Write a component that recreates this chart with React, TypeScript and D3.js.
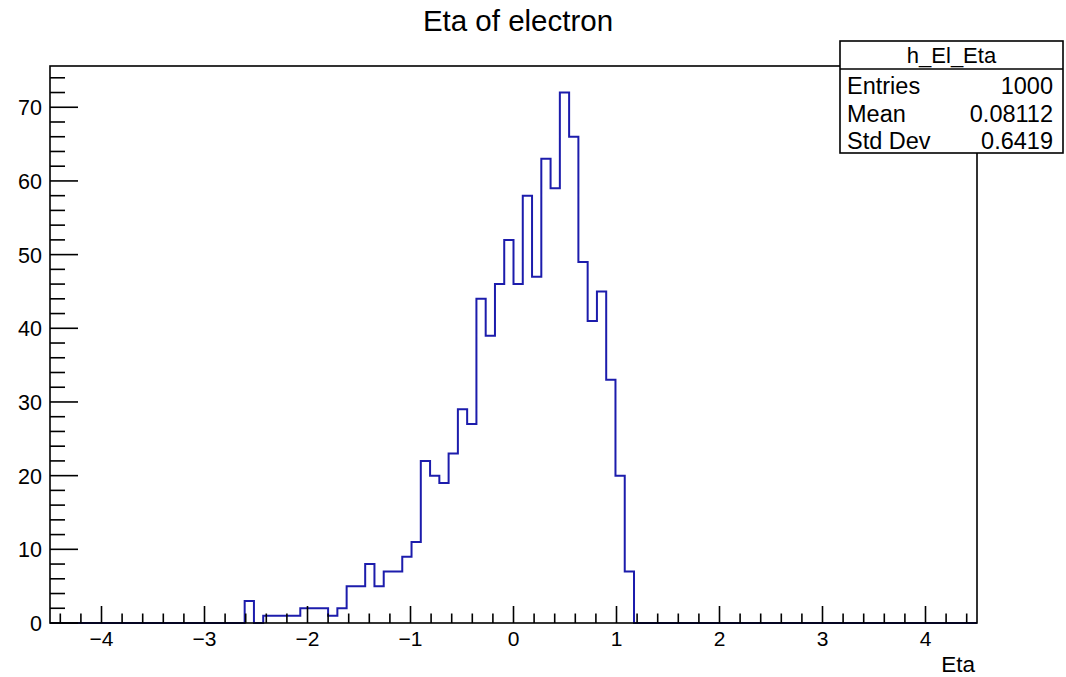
import React from "react";
import * as d3 from "d3";

// Histogram definition: 100 equal bins over [-4.5, 4.5]
const X_MIN = -4.5;
const X_MAX = 4.5;
const N_BINS = 100;

// Counts for the bins from FIRST_FILLED_BIN onward (all others are empty)
const FIRST_FILLED_BIN = 21;
const filledCounts = [
  3, 0, 1, 1, 1, 1, 2, 2, 2, 1, 2, 5, 5, 8, 5, 7, 7, 9, 11, 22, 20, 19, 23,
  29, 27, 44, 39, 46, 52, 46, 58, 47, 63, 59, 72, 66, 49, 41, 45, 33, 20, 7,
];

// Axis ticks
const xMajorTicks = [-4, -3, -2, -1, 0, 1, 2, 3, 4];
const yMajorTicks = [0, 10, 20, 30, 40, 50, 60, 70];

// Statistics box entries
const statsTitle = "h_El_Eta";
const statsLabels = ["Entries", "Mean", "Std Dev"];
const statsValues = ["1000", "0.08112", "0.6419"];

const chartTitle = "Eta of electron";
const xAxisTitle = "Eta";

const W = 1066;
const H = 677;
const FRAME = { left: 50, right: 977, top: 66, bottom: 623 };
const FONT = "'Liberation Sans', Arial, Helvetica, sans-serif";
const LINE_COLOR = "#1c1cac";

export default function App() {
  const counts: number[] = Array.from({ length: N_BINS }, (_, i) => {
    const k = i - FIRST_FILLED_BIN;
    return k >= 0 && k < filledCounts.length ? filledCounts[k] : 0;
  });
  const binWidth = (X_MAX - X_MIN) / N_BINS;
  const yMax = (d3.max(counts) ?? 1) * 1.05;

  const x = d3.scaleLinear().domain([X_MIN, X_MAX]).range([FRAME.left, FRAME.right]);
  const y = d3.scaleLinear().domain([0, yMax]).range([FRAME.bottom, FRAME.top]);

  // Step outline of the histogram
  const pts: [number, number][] = [[X_MIN, 0]];
  counts.forEach((c, i) => {
    const lo = X_MIN + i * binWidth;
    const hi = lo + binWidth;
    pts.push([lo, c], [hi, c]);
  });
  pts.push([X_MAX, 0]);
  const histPath = d3
    .line<[number, number]>()
    .x((d) => x(d[0]))
    .y((d) => y(d[1]))(pts) as string;

  // Minor ticks
  const xMinorTicks: number[] = [];
  for (let v = -44; v <= 44; v += 2) {
    if (v % 10 !== 0) xMinorTicks.push(v / 10);
  }
  const yMinorTicks: number[] = [];
  for (let v = 2; v <= yMax; v += 2) {
    if (v % 10 !== 0) yMinorTicks.push(v);
  }

  const fmt = (v: number) => (v < 0 ? "\u2212" + Math.abs(v) : String(v));

  const box = { left: 840, right: 1063, top: 41, header: 69, bottom: 153 };
  const rowBaselines = [94, 122, 149];

  return (
    <svg
      width={W}
      height={H}
      style={{ position: "absolute", left: 0, top: 0, display: "block", background: "#fff" }}
      fontFamily={FONT}
    >
      <rect x={0} y={0} width={W} height={H} fill="#fff" />

      <text x={518} y={31} fontSize={29.5} textAnchor="middle" fill="#000">
        {chartTitle}
      </text>

      <path d={histPath} fill="none" stroke={LINE_COLOR} strokeWidth={2} />

      {/* frame */}
      <rect
        x={FRAME.left}
        y={FRAME.top}
        width={FRAME.right - FRAME.left}
        height={FRAME.bottom - FRAME.top}
        fill="none"
        stroke="#000"
        strokeWidth={1.6}
      />

      {/* x axis ticks */}
      {xMajorTicks.map((t) => (
        <g key={"xm" + t}>
          <line x1={x(t)} x2={x(t)} y1={FRAME.bottom} y2={FRAME.bottom - 17} stroke="#000" strokeWidth={1.6} />
          <text x={x(t)} y={646} fontSize={21} textAnchor="middle" fill="#000">
            {fmt(t)}
          </text>
        </g>
      ))}
      {xMinorTicks.map((t) => (
        <line key={"xn" + t} x1={x(t)} x2={x(t)} y1={FRAME.bottom} y2={FRAME.bottom - 9.5} stroke="#000" strokeWidth={1.6} />
      ))}

      {/* y axis ticks */}
      {yMajorTicks.map((t) => (
        <g key={"ym" + t}>
          <line x1={FRAME.left} x2={FRAME.left + 28} y1={y(t)} y2={y(t)} stroke="#000" strokeWidth={1.6} />
          <text x={42} y={y(t) + 8} fontSize={21.5} textAnchor="end" fill="#000">
            {t}
          </text>
        </g>
      ))}
      {yMinorTicks.map((t) => (
        <line key={"yn" + t} x1={FRAME.left} x2={FRAME.left + 15} y1={y(t)} y2={y(t)} stroke="#000" strokeWidth={1.6} />
      ))}

      <text x={975} y={672} fontSize={22.5} textAnchor="end" fill="#000">
        {xAxisTitle}
      </text>

      {/* statistics box */}
      <rect
        x={box.left}
        y={box.top}
        width={box.right - box.left}
        height={box.bottom - box.top}
        fill="#fff"
        stroke="#000"
        strokeWidth={1.6}
      />
      <line x1={box.left} x2={box.right} y1={box.header} y2={box.header} stroke="#000" strokeWidth={1.6} />
      <text x={(box.left + box.right) / 2} y={63} fontSize={22} textAnchor="middle" fill="#000">
        {statsTitle}
      </text>
      {statsLabels.map((lab, i) => (
        <g key={lab}>
          <text x={847} y={rowBaselines[i]} fontSize={23.5} fill="#000">
            {lab}
          </text>
          <text x={1053} y={rowBaselines[i]} fontSize={23.5} textAnchor="end" fill="#000">
            {statsValues[i]}
          </text>
        </g>
      ))}
    </svg>
  );
}
